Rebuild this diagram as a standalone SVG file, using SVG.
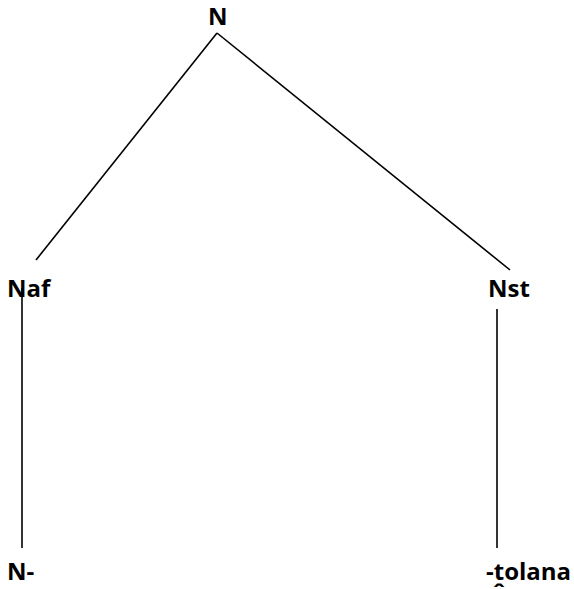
<svg xmlns="http://www.w3.org/2000/svg" width="574" height="589" viewBox="0 0 574 589">
  <style>
    .lbl { font-family: "Open Sans", "Liberation Sans", sans-serif; font-weight: 700; font-size: 24px; fill: #000; }
    .edge { stroke: #000; stroke-width: 1.6; fill: none; }
  </style>
  <rect width="574" height="589" fill="#fff"/>
  <g id="connectors">
    <line class="edge" x1="217" y1="33" x2="36" y2="260"/>
    <line class="edge" x1="217" y1="33" x2="510" y2="270"/>
    <line class="edge" x1="22" y1="288" x2="22" y2="548"/>
    <line class="edge" x1="497" y1="309" x2="497" y2="548"/>
  </g>
  <g id="node-N">
    <text class="lbl" x="208" y="25">N</text>
  </g>
  <g id="node-Naf">
    <text class="lbl" x="7" y="297">Naf</text>
  </g>
  <g id="node-Nst">
    <text class="lbl" x="488" y="297">Nst</text>
  </g>
  <g id="node-N-minus">
    <text class="lbl" x="7" y="580">N-</text>
  </g>
  <g id="node-tolana">
    <text class="lbl" x="486" y="580">-tolana</text>
    <text class="lbl" x="493" y="601">ˆ</text>
  </g>
</svg>
